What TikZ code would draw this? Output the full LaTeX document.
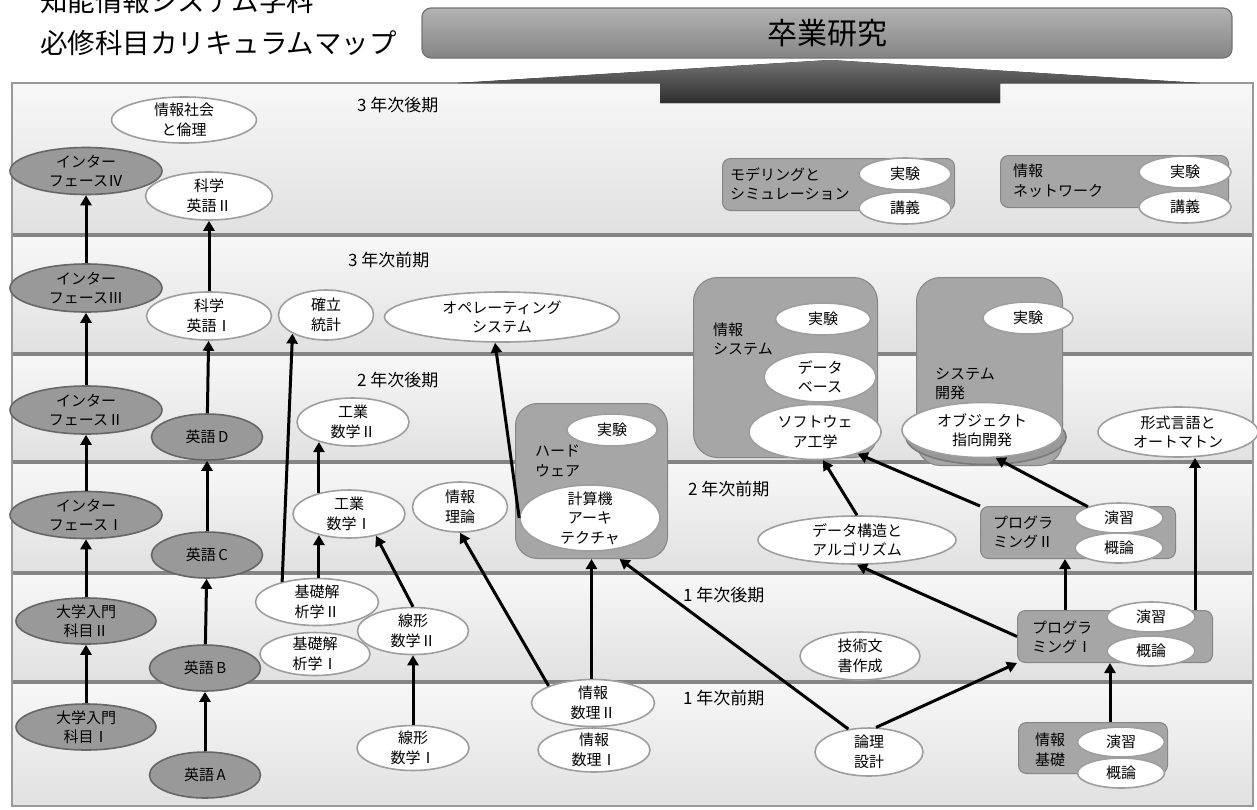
\documentclass[tikz,border=0pt]{standalone}
\usepackage{fontspec}
\setmainfont{Noto Sans CJK JP}
\usetikzlibrary{arrows.meta,shapes.geometric,shadows}

\newcommand\ksz{\fontsize{15}{19.5}\selectfont}
\newcommand\lsz{\fontsize{17}{20}\selectfont}

\begin{document}
\begin{tikzpicture}[x=1pt,y=-1pt,
  band/.style={top color=black!3,bottom color=black!12},
  sep/.style={line width=4.5pt,draw=black!48},
  lbl/.style={anchor=west,inner sep=0pt,font=\lsz},
  kamoku/.style={ellipse,draw=black!38,line width=1.6pt,fill=white,align=center,
    inner xsep=0pt,inner ysep=-5pt,font=\ksz},
  ippan/.style={kamoku,fill=black!40,draw=black!60},
  grp/.style={anchor=north west,rounded corners=8pt,fill=black!35,draw=black!48,
    line width=1pt,inner sep=0pt},
  grptxt/.style={anchor=west,align=left,inner sep=0pt,font=\ksz},
  arr/.style={-{Triangle[length=10pt,width=11pt]},line width=3pt},
  sz/.style 2 args={minimum width=#1pt,minimum height=#2pt}]
\useasboundingbox (0,0) rectangle (1257,809);

\node[anchor=west,inner sep=0pt,font=\fontsize{27.5}{30}\selectfont] (title1) at (40,1) {知能情報システム学科};
\node[anchor=west,inner sep=0pt,font=\fontsize{27.5}{30}\selectfont] (title2) at (40,43) {必修科目カリキュラムマップ};
\node[rounded corners=9pt,top color=black!30,bottom color=black!48,draw=black!55,line width=1.2pt,
  sz={810}{50},font=\fontsize{30}{32}\selectfont] (sotsuken) at (827,33) {卒業研究};

\foreach \a/\b in {83/235,235/354,354/462,462/573,573/682,682/806}
  \fill[band] (12,\a) rectangle (1253,\b);
\foreach \y in {235,354,462,573,682}
  \draw[sep] (12,\y) -- (1253,\y);
\draw[black!40,line width=1.2pt] (12,83) rectangle (1253,806);
\fill[top color=black!55,bottom color=black!82] (458,83) -- (830,60) -- (1200,83) -- (1000,83)
  -- (1000,103) -- (660,103) -- (660,83) -- cycle;

\node[lbl] (l3b) at (357,105) {3 年次後期};
\node[lbl] (l3a) at (348,260) {3 年次前期};
\node[lbl] (l2b) at (357,380) {2 年次後期};
\node[lbl] (l2a) at (688,489) {2 年次前期};
\node[lbl] (l1b) at (683,595) {1 年次後期};
\node[lbl] (l1a) at (683,698) {1 年次前期};

\node[ippan,sz={152}{47}] (if4) at (86,171) {インター\\フェースⅣ};
\node[ippan,sz={152}{48}] (if3) at (86,288) {インター\\フェースⅢ};
\node[ippan,sz={152}{48}] (if2) at (86,410) {インター\\フェースⅡ};
\node[ippan,sz={152}{47}] (if1) at (86,515) {インター\\フェースⅠ};
\node[ippan,sz={140}{46}] (nyumon2) at (86,621) {大学入門\\科目Ⅱ};
\node[ippan,sz={140}{46}] (nyumon1) at (86,727) {大学入門\\科目Ⅰ};
\node[ippan,sz={111}{46}] (eigoD) at (207,437) {英語\,D};
\node[ippan,sz={111}{46}] (eigoC) at (207,555) {英語\,C};
\node[ippan,sz={111}{46}] (eigoB) at (205,668) {英語\,B};
\node[ippan,sz={111}{46}] (eigoA) at (205,775) {英語\,A};

\node[kamoku,sz={145}{46}] (shakai) at (184,120) {情報社会\\と倫理};
\node[kamoku,sz={127}{48}] (kagaku2) at (209,196) {科学\\英語Ⅱ};
\node[kamoku,sz={125}{48}] (kagaku1) at (209,316) {科学\\英語Ⅰ};
\node[kamoku,sz={95}{50}] (kakuritsu) at (326,315) {確立\\統計};
\node[kamoku,sz={235}{50}] (os) at (502,317) {オペレーティング\\システム};
\node[kamoku,sz={112}{48}] (kogyo2) at (353,422) {工業\\数学Ⅱ};
\node[kamoku,sz={112}{48}] (kogyo1) at (349,514) {工業\\数学Ⅰ};
\node[kamoku,sz={95}{50}] (riron) at (460,507) {情報\\理論};
\node[kamoku,sz={123}{47}] (kaiseki2) at (317,602) {基礎解\\析学Ⅱ};
\node[kamoku,sz={110}{43}] (kaiseki1) at (315,654) {基礎解\\析学Ⅰ};
\node[kamoku,sz={111}{47}] (senkei2) at (413,631) {線形\\数学Ⅱ};
\node[kamoku,sz={112}{45}] (senkei1) at (413,748) {線形\\数学Ⅰ};
\node[kamoku,sz={123}{47}] (suri2) at (593,703) {情報\\数理Ⅱ};
\node[kamoku,sz={112}{44}] (suri1) at (594,750) {情報\\数理Ⅰ};
\node[kamoku,sz={120}{48}] (gijutsu) at (860,656) {技術文\\書作成};
\node[kamoku,sz={108}{48}] (ronri) at (869,752) {論理\\設計};
\node[kamoku,sz={198}{48}] (datakozo) at (857,540) {データ構造と\\アルゴリズム};
\node[kamoku,sz={160}{50}] (keishiki) at (1178,432) {形式言語と\\オートマトン};

\node[grp,sz={232}{52}] (model) at (722,158) {};
\node[grptxt] (modeltxt) at (730,184) {モデリングと\\シミュレーション};
\node[kamoku,sz={92}{32}] (mjikken) at (905,174) {実験};
\node[kamoku,sz={92}{32}] (mkogi) at (905,208) {講義};

\node[grp,sz={228}{52}] (network) at (1000,155) {};
\node[grptxt] (networktxt) at (1013,181) {情報\\ネットワーク};
\node[kamoku,sz={92}{32}] (njikken) at (1185,172) {実験};
\node[kamoku,sz={92}{32}] (nkogi) at (1185,207) {講義};

\node[grp,sz={184}{180},rounded corners=24pt] (infosys) at (693,277) {};
\node[grptxt] (infosystxt) at (713,339) {情報\\システム};
\node[kamoku,sz={95}{32}] (isjikken) at (823,319) {実験};
\node[kamoku,sz={112}{50}] (db) at (820,377) {データ\\ベース};
\node[kamoku,sz={132}{55}] (soft) at (815,432) {ソフトウェ\\ア工学};

\node[grp,sz={146}{188},rounded corners=24pt] (sysdev) at (916,277) {};
\node[grptxt] (sysdevtxt) at (935,384) {システム\\開発};
\node[kamoku,sz={90}{32}] (sdjikken) at (1028,318) {実験};
\node[kamoku,sz={160}{55},copy shadow={shadow xshift=4pt,shadow yshift=-7pt,fill=black!40,draw=black!52}]
  (object) at (982,430) {オブジェクト\\指向開発};

\node[grp,sz={152}{155},rounded corners=22pt] (hw) at (515,403) {};
\node[grptxt] (hwtxt) at (535,461) {ハード\\ウェア};
\node[kamoku,sz={90}{32}] (hwjikken) at (612,430) {実験};
\node[kamoku,sz={140}{66}] (keisanki) at (590,518) {計算機\\アーキ\\テクチャ};

\node[grp,sz={195}{52}] (prog2) at (980,506) {};
\node[grptxt] (prog2txt) at (993,532) {プログラ\\ミングⅡ};
\node[kamoku,sz={88}{30}] (p2enshu) at (1119,518) {演習};
\node[kamoku,sz={88}{30}] (p2gairon) at (1119,548) {概論};

\node[grp,sz={195}{52}] (prog1) at (1017,610) {};
\node[grptxt] (prog1txt) at (1032,637) {プログラ\\ミングⅠ};
\node[kamoku,sz={88}{30}] (p1enshu) at (1151,617) {演習};
\node[kamoku,sz={88}{30}] (p1gairon) at (1151,651) {概論};

\node[grp,sz={149}{51}] (kiso) at (1018,722) {};
\node[grptxt] (kisotxt) at (1035,750) {情報\\基礎};
\node[kamoku,sz={87}{30}] (kenshu) at (1121,742) {演習};
\node[kamoku,sz={87}{30}] (kgairon) at (1121,773) {概論};

\draw[arr] (if1) -- (if2);
\draw[arr] (if2) -- (if3);
\draw[arr] (if3) -- (if4);
\draw[arr] (nyumon1) -- (nyumon2);
\draw[arr] (nyumon2) -- (if1);
\draw[arr] (eigoA) -- (eigoB);
\draw[arr] (eigoB) -- (eigoC);
\draw[arr] (eigoC) -- (eigoD);
\draw[arr] (eigoD) -- (kagaku1);
\draw[arr] (kagaku1) -- (kagaku2);
\draw[arr] (kaiseki2.150) -- (kakuritsu.209);
\draw[arr] (kogyo1.215 |- kaiseki2.north) -- (kogyo1.215);
\draw[arr] (kogyo1.145) -- (kogyo1.145 |- kogyo2.211);
\draw[arr] (senkei2.north) -- (kogyo1.321);
\draw[arr] (senkei1) -- (senkei2);
\draw[arr] (suri2.159) -- (riron.south);
\draw[arr] (hw.south |- suri2.north) -- (hw.south);
\draw[arr] (keisanki.west) -- ([xshift=-7pt]os.south);
\draw[arr] (ronri.132) -- ([xshift=28pt]hw.south);
\draw[arr] (ronri.74) -- (prog1.south west);
\draw[arr] ([xshift=17pt]kiso.north) -- ([xshift=17pt]kiso.north |- prog1.south);
\draw[arr] (prog1.west) -- (datakozo.south);
\draw[arr] ([xshift=-50pt]prog1.north) -- ([xshift=-50pt]prog1.north |- prog2.south);
\draw[arr] ([xshift=80pt]prog1.north) -- ([xshift=80pt]prog1.north |- keishiki.south);
\draw[arr] (prog2.north west) -- (soft.333);
\draw[arr] (datakozo.north) -- (soft.286);
\draw[arr] (p2enshu.160) -- (object.296);
\end{tikzpicture}
\end{document}
